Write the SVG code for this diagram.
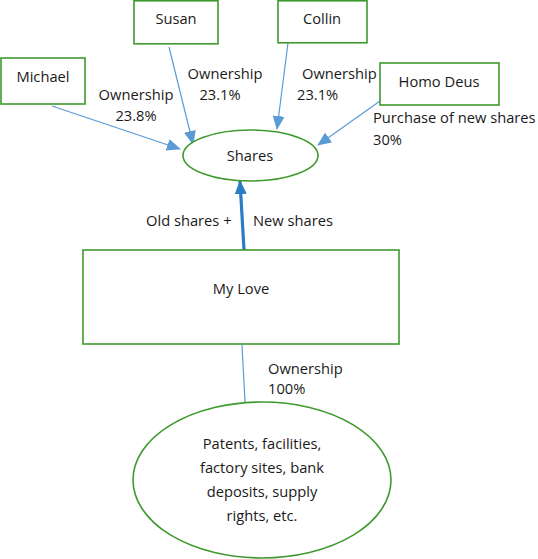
<svg xmlns="http://www.w3.org/2000/svg" width="538" height="559" viewBox="0 0 538 559">
<style>
.box{fill:#fff;stroke:#3f9a2e;stroke-width:1.6}
.t{font-family:"Open Sans","Liberation Sans",sans-serif;font-size:14.7px;fill:#1a1a1a}
.c{text-anchor:middle}
.ln{stroke:#5b9bd5;stroke-width:1.2;fill:none}
.thick{stroke:#2a7cc7;stroke-width:3.2;fill:none}
</style>
<defs>
<marker id="ah" markerUnits="userSpaceOnUse" markerWidth="14" markerHeight="12" viewBox="0 0 14 12" refX="13" refY="6" orient="auto">
<path d="M0,0 L14,6 L0,12 z" fill="#5b9bd5"/>
</marker>
<marker id="ahb" markerUnits="userSpaceOnUse" markerWidth="14" markerHeight="12" viewBox="0 0 14 12" refX="13" refY="6" orient="auto">
<path d="M0,0 L14,6 L0,12 z" fill="#2a7cc7"/>
</marker>
</defs>
<g id="connectors">
<line class="ln" x1="52" y1="106" x2="180" y2="149" marker-end="url(#ah)"/>
<line class="ln" x1="169" y1="47" x2="193" y2="144" marker-end="url(#ah)"/>
<line class="ln" x1="288" y1="43" x2="277" y2="129" marker-end="url(#ah)"/>
<line class="ln" x1="380" y1="101" x2="318" y2="145" marker-end="url(#ah)"/>
<line class="thick" x1="244" y1="250" x2="240" y2="181" marker-end="url(#ahb)"/>
<line class="ln" x1="242" y1="345" x2="245" y2="402"/>
<text class="t c" x="136" y="100">Ownership</text>
<text class="t c" x="136" y="121">23.8%</text>
<text class="t c" x="225" y="79">Ownership</text>
<text class="t c" x="220" y="100">23.1%</text>
<text class="t" x="302" y="79">Ownership</text>
<text class="t" x="297" y="100">23.1%</text>
<text class="t" x="373" y="123">Purchase of new shares</text>
<text class="t" x="373" y="145">30%</text>
<text class="t" x="146" y="226">Old shares +</text>
<text class="t" x="253" y="226">New shares</text>
<text class="t" x="268" y="374">Ownership</text>
<text class="t" x="268" y="394">100%</text>
</g>
<g id="michael"><rect class="box" x="1" y="58" width="84" height="46"/><text class="t c" x="43" y="82">Michael</text></g>
<g id="susan"><rect class="box" x="134" y="0.8" width="84" height="43"/><text class="t c" x="176" y="24">Susan</text></g>
<g id="collin"><rect class="box" x="278" y="0.8" width="89" height="42"/><text class="t c" x="322" y="24">Collin</text></g>
<g id="homodeus"><rect class="box" x="380" y="63" width="119" height="42"/><text class="t c" x="439" y="87">Homo Deus</text></g>
<g id="shares"><ellipse class="box" cx="250.5" cy="155.5" rx="67.5" ry="25.5"/><text class="t c" x="250" y="161">Shares</text></g>
<g id="mylove"><rect class="box" x="83" y="250" width="316" height="94"/><text class="t c" x="241" y="294">My Love</text></g>
<g id="assets"><ellipse class="box" cx="262" cy="480" rx="129" ry="78"/>
<text class="t c" x="262" y="449">Patents, facilities,</text>
<text class="t c" x="262" y="473">factory sites, bank</text>
<text class="t c" x="262" y="497">deposits, supply</text>
<text class="t c" x="262" y="521">rights, etc.</text>
</g>
</svg>
